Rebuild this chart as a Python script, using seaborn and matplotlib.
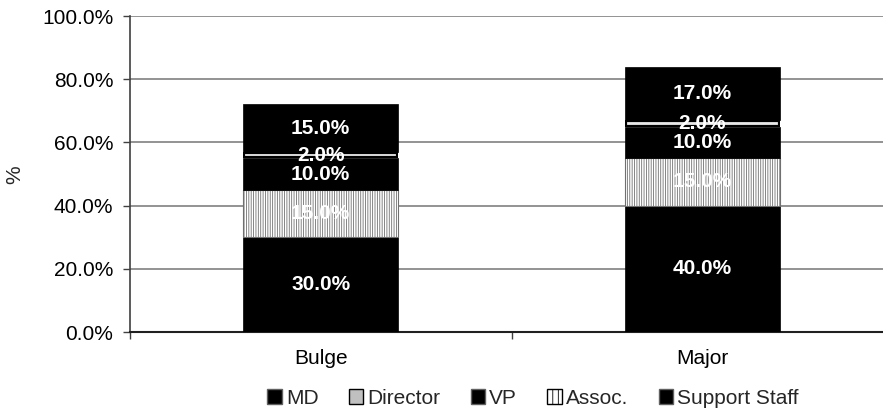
import numpy as np
import pandas as pd
import seaborn as sns
import matplotlib.pyplot as plt
from matplotlib.patches import Patch, Rectangle
from matplotlib.ticker import FuncFormatter

# ---- data ----
categories = ["Bulge", "Major"]
support_staff = [30.0, 40.0]
assoc = [15.0, 15.0]
vp = [10.0, 10.0]
director = [2.0, 2.0]
md = [15.0, 17.0]
legend_order = ["MD", "Director", "VP", "Assoc.", "Support Staff"]
y_ticks = [0, 20, 40, 60, 80, 100]

sns.set_theme(style="white")
plt.rcParams['font.family'] = ['Liberation Sans', 'DejaVu Sans']
plt.rcParams['hatch.linewidth'] = 0.6

FS = 15

fig = plt.figure(figsize=(8.83, 4.13), dpi=100)
ax = fig.add_axes([130 / 883, 1 - 332 / 413, (893 - 130) / 883, (332 - 16) / 413])

# stacking order bottom -> top
stack = [
    ("Support Staff", support_staff, dict(facecolor="black", edgecolor="black", linewidth=0.5)),
    ("Assoc.", assoc, dict(facecolor="white", edgecolor="#707070", linewidth=0.8, hatch="|||||||")),
    ("VP", vp, dict(facecolor="black", edgecolor="black", linewidth=0.5)),
    ("Director", director, dict(facecolor="#e8e8e8", edgecolor="black", linewidth=3.0)),
    ("MD", md, dict(facecolor="black", edgecolor="black", linewidth=0.5)),
]

bottoms = np.zeros(len(categories))
label_info = []
for name, vals, style in stack:
    df = pd.DataFrame({"cat": categories, "val": vals})
    before = len(ax.patches)
    sns.barplot(data=df, x="cat", y="val", ax=ax, width=0.405, color="black",
                errorbar=None, zorder=3)
    new = ax.patches[before:]
    for p, b, v in zip(new, bottoms, vals):
        p.set_y(b)
        p.set_facecolor(style["facecolor"])
        p.set_edgecolor(style["edgecolor"])
        p.set_linewidth(style["linewidth"])
        if "hatch" in style:
            p.set_hatch(style["hatch"])
        if name == "Director":
            p.set_zorder(4)
            clip = Rectangle((p.get_x(), p.get_y()), p.get_width(), p.get_height(),
                             transform=ax.transData, visible=False)
            ax.add_artist(clip)
            p.set_clip_path(clip)
        label_info.append((p.get_x() + p.get_width() / 2, b + v / 2, v))
    bottoms = bottoms + np.array(vals)

for x, y, v in label_info:
    ax.text(x, y, f"{v:.1f}%", ha="center", va="center", color="white",
            fontsize=FS, fontweight="bold", zorder=6)

ax.set_ylim(0, 100)
ax.set_xlim(-0.5, 1.5)
ax.set_yticks(y_ticks)
ax.yaxis.set_major_formatter(FuncFormatter(lambda v, _: f"{v:.1f}%"))
ax.yaxis.grid(True, color="#808080", linewidth=1.2, zorder=0)
ax.set_axisbelow(True)

ax.set_xticks([0, 1])
ax.set_xticklabels(categories)
ax.set_xticks([-0.5, 0.5, 1.5], minor=True)
ax.tick_params(axis="x", which="major", length=0, pad=12, labelsize=FS, colors="black")
ax.tick_params(axis="x", which="minor", length=5, width=1, color="#404040", direction="out", bottom=True)
ax.tick_params(axis="y", length=5, width=1, color="#404040", direction="out", left=True,
               labelsize=FS, labelcolor="black", pad=7)

for s in ["top", "right"]:
    ax.spines[s].set_visible(False)
ax.spines["left"].set_color("#404040")
ax.spines["left"].set_linewidth(1.2)
ax.spines["bottom"].set_color("#202020")
ax.spines["bottom"].set_linewidth(1.5)

ax.set_xlabel("")
ax.set_ylabel("")
fig.text(15 / 883, 1 - 175 / 413, "%", rotation=90, ha="center", va="center", fontsize=FS)

handles = []
for name in legend_order:
    if name == "Director":
        handles.append(Patch(facecolor="#c0c0c0", edgecolor="black", linewidth=1.0, label=name))
    elif name == "Assoc.":
        handles.append(Patch(facecolor="white", edgecolor="black", linewidth=1.0, hatch="|||", label=name))
    else:
        handles.append(Patch(facecolor="black", edgecolor="#606060", linewidth=1.0, label=name))
fig.legend(handles=handles, loc="center", bbox_to_anchor=(533 / 883, 1 - 398 / 413), ncol=5,
           frameon=False, fontsize=FS, handlelength=0.7, handleheight=0.7,
           handletextpad=0.2, columnspacing=1.45, borderpad=0)

fig.savefig("out.png", dpi=100)
